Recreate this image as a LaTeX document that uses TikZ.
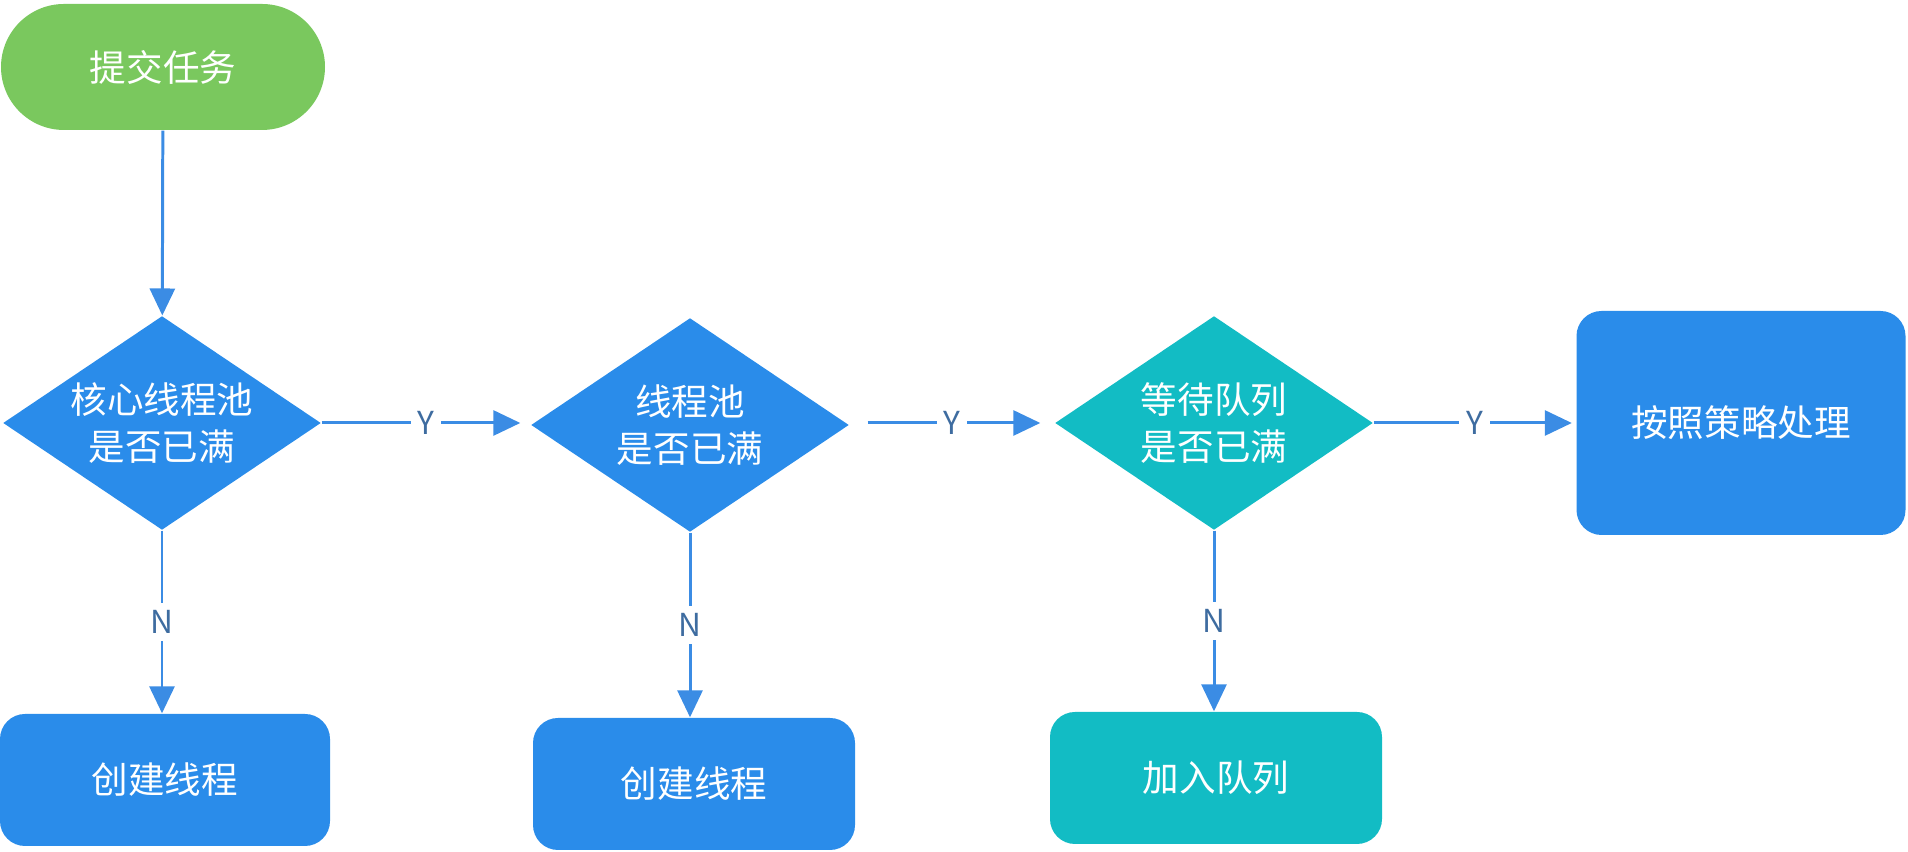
\documentclass[tikz,border=0pt]{standalone}
\usepackage{fontspec}
\setmainfont{Noto Sans CJK SC}
\usetikzlibrary{shapes.geometric, arrows.meta}
\definecolor{startgreen}{RGB}{122,200,94}
\definecolor{stepblue}{RGB}{42,140,234}
\definecolor{queueteal}{RGB}{18,188,196}
\definecolor{linkblue}{RGB}{59,140,228}
\definecolor{labelblue}{RGB}{62,108,160}

\begin{document}
\begin{tikzpicture}[
  font=\fontsize{10.4}{13.5}\selectfont,
  decision/.style={diamond, aspect=1.5, fill=#1, text=white, minimum width=3.18cm, minimum height=2.14cm, inner sep=0pt, align=center},
  process/.style={rectangle, rounded corners=0.25cm, fill=#1, text=white, minimum width=3.28cm, minimum height=1.32cm},
  link/.style={draw=linkblue, line width=0.85pt, -{Triangle[length=0.27cm, width=0.25cm]}},
  yn/.style={fill=white, text=labelblue, font=\fontsize{9}{10}\selectfont, inner sep=2pt}
]
\useasboundingbox (0,0) rectangle (19.08,8.52);

% Start
\node[rectangle, rounded corners=0.63cm, fill=startgreen, text=white, minimum width=3.24cm, minimum height=1.26cm] (submit) at (1.63,7.85) {提交任务};

% Decisions
\node[decision=stepblue] (core) at (1.62,4.29) {核心线程池\\是否已满};
\node[decision=stepblue] (pool) at (6.90,4.27) {线程池\\是否已满};
\node[decision=queueteal] (wait) at (12.14,4.29) {等待队列\\是否已满};

% Results
\node[process=stepblue, minimum width=3.29cm, minimum height=2.24cm] (policy) at (17.41,4.29) {按照策略处理};
\node[process=stepblue, minimum width=3.30cm] (create1) at (1.65,0.72) {创建线程};
\node[process=stepblue, minimum width=3.22cm] (create2) at (6.94,0.68) {创建线程};
\node[process=queueteal, minimum width=3.32cm] (enqueue) at (12.16,0.74) {加入队列};

% Connectors
\draw[link] (submit) -- (core);
\draw[link, shorten >=0.1cm] (core.east) -- node[yn] {Y} (core.east -| pool.west);
\draw[link, shorten <=0.18cm, shorten >=0.14cm] (core.east -| pool.east) -- node[yn] {Y} (wait.west);
\draw[link, shorten >=0.04cm] (wait.east) -- node[yn] {Y} (wait.east -| policy.west);
\foreach \d/\b in {core/create1, pool/create2, wait/enqueue} {
    \draw[link] (\d.south) -- node[yn] {N} (\d.south |- \b.north);
}

\end{tikzpicture}
\end{document}
